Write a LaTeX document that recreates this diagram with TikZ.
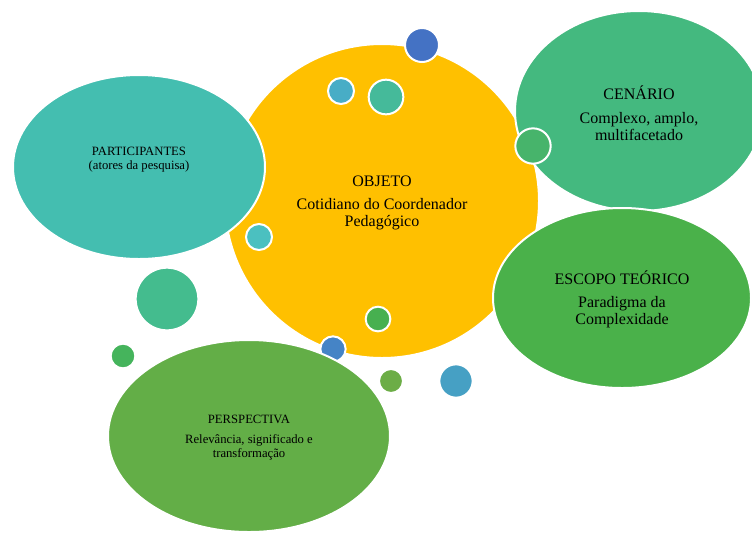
\documentclass[tikz,border=0pt]{standalone}
\usepackage{fontspec}
\setmainfont{Liberation Serif}
\usetikzlibrary{shapes.geometric}

\definecolor{objYellow}{HTML}{FFC000}
\definecolor{partTeal}{HTML}{44BEB0}
\definecolor{cenGreen}{HTML}{44B97F}
\definecolor{escGreen}{HTML}{4AB14A}
\definecolor{perGreen}{HTML}{63AE47}
\definecolor{dotBlue}{HTML}{4472C4}
\definecolor{dotSky}{HTML}{48ADC6}
\definecolor{dotSea}{HTML}{45BA9A}
\definecolor{dotLeaf}{HTML}{47B46B}
\definecolor{dotAqua}{HTML}{4BC0C0}
\definecolor{dotGrass}{HTML}{47B050}
\definecolor{dotSteel}{HTML}{4584C6}
\definecolor{dotOlive}{HTML}{6CAD46}
\definecolor{dotOcean}{HTML}{46A0C4}
\definecolor{dotMint}{HTML}{44BC8E}
\definecolor{dotFern}{HTML}{45B45C}

\begin{document}
\begin{tikzpicture}[x=0.75pt,y=-0.75pt,
  bubble/.style={ellipse, fill=#1, draw=white, line width=1.5pt, inner sep=0pt},
  dot/.style={circle, fill=#1, draw=white, line width=1.5pt, inner sep=0pt},
  caption/.style={align=center, text=black, inner sep=0pt},
  big/.style={font=\fontsize{12}{12.5}\selectfont},
  small/.style={font=\fontsize{9.5}{10.5}\selectfont},
]
\useasboundingbox (0,0) rectangle (752,533);

% central object
\node[bubble=objYellow, circle, minimum size=235.5pt] (objeto) at (382,201) {};

% dots on the central circle
\node[dot=dotBlue, minimum size=25.5pt] (d1) at (422,45) {};
\node[dot=dotSky,  minimum size=19.5pt] (d2) at (341,91) {};
\node[dot=dotSea,  minimum size=26pt]   (d3) at (386,97) {};
\node[dot=dotAqua, minimum size=19.5pt] (d5) at (259,237) {};
\node[dot=dotGrass,minimum size=18.5pt] (d6) at (378,319) {};
\node[dot=dotSteel,minimum size=19pt]   (d7) at (333,349) {};

% surrounding themes
\node[bubble=partTeal, minimum width=189pt, minimum height=138pt] (partic) at (139,167) {};
\node[bubble=cenGreen, minimum width=186pt, minimum height=150pt] (cenario) at (639,111) {};
\node[dot=dotLeaf, minimum size=26.5pt] (d4) at (533,146) {};
\node[bubble=escGreen, minimum width=193.5pt, minimum height=135pt] (escopo) at (622,298) {};
\node[bubble=perGreen, minimum width=211.5pt, minimum height=144pt] (perspec) at (249,436) {};

% loose dots
\node[dot=dotOlive, minimum size=18pt]   (d8)  at (391,381) {};
\node[dot=dotOcean, minimum size=25pt]   (d9)  at (456,381) {};
\node[dot=dotMint,  minimum size=47pt]   (d10) at (167,299) {};
\node[dot=dotFern,  minimum size=18.5pt] (d11) at (123,356) {};

% captions
\node[caption, big] (objeto-txt) at (382,203)
  {OBJETO\\[4.5pt]Cotidiano do Coordenador\\Pedagógico};
\node[caption, big] (cenario-txt) at (639,113)
  {CENÁRIO\\[5.5pt]Complexo, amplo,\\multifacetado};
\node[caption, big] (escopo-txt) at (622,299)
  {ESCOPO TEÓRICO\\[5pt]Paradigma da\\Complexidade};
\node[caption, small] (partic-txt) at (139,160)
  {PARTICIPANTES\\(atores da pesquisa)};
\node[caption, small] (perspec-txt) at (249,438)
  {PERSPECTIVA\\[4.5pt]Relevância, significado e\\transformação};
\end{tikzpicture}
\end{document}
